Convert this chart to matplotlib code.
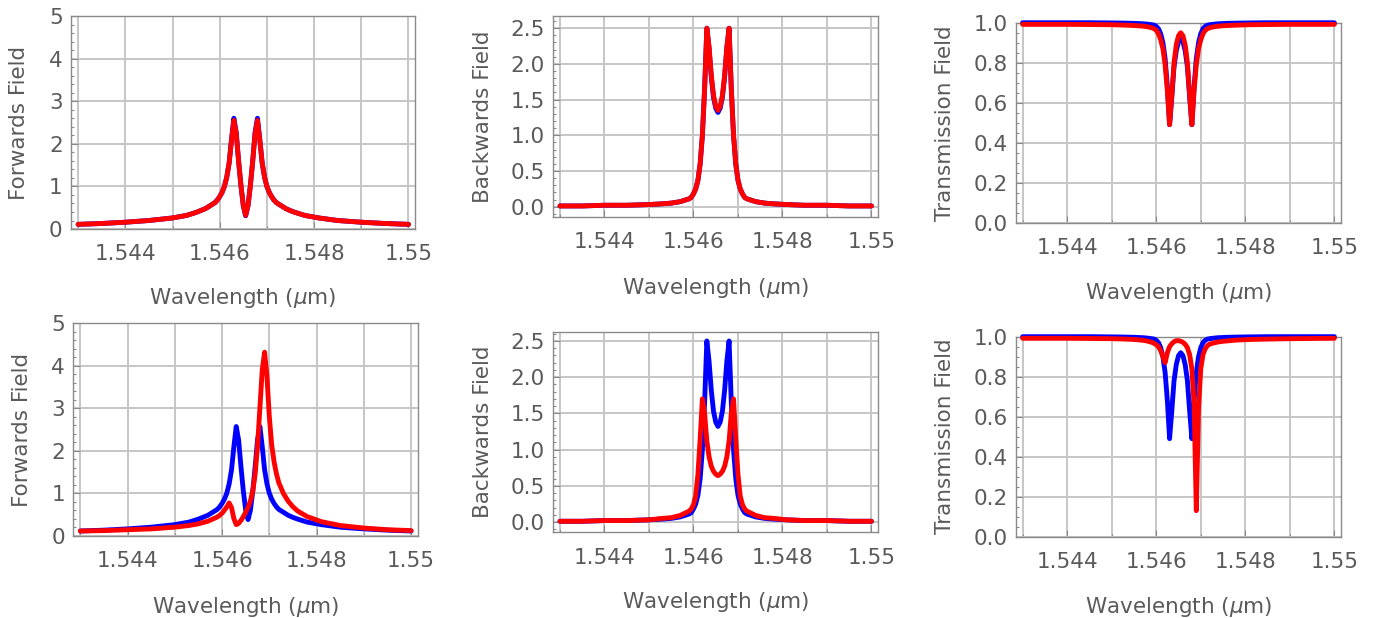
import matplotlib
matplotlib.use("Agg")
import matplotlib.pyplot as plt

# wavelength samples (um), dense around the resonances
wl = [1.5430, 1.5435, 1.5440, 1.5445, 1.5450, 1.5453, 1.5455, 1.5457, 1.5458,
      1.54590, 1.54595, 1.54600, 1.54605, 1.54610, 1.54615, 1.54620, 1.54625,
      1.54630, 1.54635, 1.54640, 1.54645, 1.54650, 1.54655, 1.54660, 1.54665,
      1.54670, 1.54675, 1.54680, 1.54685, 1.54690, 1.54695, 1.54700, 1.54705,
      1.54710, 1.54715, 1.54720,
      1.5473, 1.5474, 1.5475, 1.5476, 1.5478, 1.5481, 1.5485, 1.5490, 1.5495, 1.5500]

# top row
fwd_top_blue = [0.11, 0.13, 0.16, 0.20, 0.26, 0.32, 0.39, 0.48, 0.55,
                0.62, 0.68, 0.76, 0.86, 1.00, 1.22, 1.55, 2.10, 2.60, 2.27, 1.60, 1.02, 0.55, 0.31,
                0.55, 1.02, 1.60, 2.27, 2.60, 2.10, 1.55, 1.22, 1.00, 0.86, 0.76, 0.68, 0.62,
                0.55, 0.48, 0.43, 0.39, 0.32, 0.26, 0.20, 0.16, 0.13, 0.11]
fwd_top_red = [0.11, 0.13, 0.16, 0.20, 0.26, 0.32, 0.39, 0.48, 0.55,
               0.62, 0.68, 0.76, 0.86, 1.00, 1.22, 1.55, 2.08, 2.55, 2.24, 1.60, 1.02, 0.55, 0.32,
               0.55, 1.02, 1.60, 2.24, 2.55, 2.08, 1.55, 1.22, 1.00, 0.86, 0.76, 0.68, 0.62,
               0.55, 0.48, 0.43, 0.39, 0.32, 0.26, 0.20, 0.16, 0.13, 0.11]
bwd_top_blue = [0.01, 0.01, 0.02, 0.02, 0.03, 0.04, 0.05, 0.07, 0.09,
                0.11, 0.13, 0.18, 0.25, 0.37, 0.60, 1.00, 1.65, 2.50, 2.22, 1.82, 1.53, 1.38, 1.32,
                1.38, 1.53, 1.82, 2.22, 2.50, 1.65, 1.00, 0.60, 0.37, 0.25, 0.18, 0.13, 0.11,
                0.09, 0.07, 0.06, 0.05, 0.04, 0.03, 0.02, 0.02, 0.01, 0.01]
bwd_top_red = [0.01, 0.01, 0.02, 0.02, 0.03, 0.04, 0.05, 0.07, 0.09,
               0.11, 0.13, 0.18, 0.25, 0.37, 0.60, 1.00, 1.65, 2.50, 2.24, 1.84, 1.56, 1.41, 1.35,
               1.41, 1.56, 1.84, 2.24, 2.50, 1.65, 1.00, 0.60, 0.37, 0.25, 0.18, 0.13, 0.11,
               0.09, 0.07, 0.06, 0.05, 0.04, 0.03, 0.02, 0.02, 0.01, 0.01]
trn_top_blue = [1.0, 1.0, 1.0, 1.0, 0.999, 0.998, 0.997, 0.995, 0.993,
                0.99, 0.988, 0.982, 0.97, 0.945, 0.90, 0.82, 0.68, 0.49, 0.63, 0.78, 0.86, 0.905, 0.92,
                0.905, 0.86, 0.78, 0.63, 0.49, 0.68, 0.82, 0.90, 0.945, 0.97, 0.982, 0.988, 0.99,
                0.993, 0.995, 0.996, 0.997, 0.998, 0.999, 1.0, 1.0, 1.0, 1.0]
trn_top_red = [0.992, 0.992, 0.992, 0.991, 0.99, 0.988, 0.986, 0.983, 0.98,
               0.975, 0.97, 0.962, 0.945, 0.915, 0.87, 0.79, 0.66, 0.49, 0.64, 0.80, 0.89, 0.935, 0.95,
               0.935, 0.89, 0.80, 0.64, 0.49, 0.66, 0.79, 0.87, 0.915, 0.945, 0.962, 0.97, 0.975,
               0.98, 0.983, 0.985, 0.986, 0.988, 0.99, 0.991, 0.992, 0.992, 0.992]

# bottom row
fwd_bot_blue = [0.11, 0.13, 0.16, 0.20, 0.26, 0.32, 0.39, 0.48, 0.55,
                0.62, 0.68, 0.76, 0.86, 1.00, 1.22, 1.55, 2.10, 2.57, 2.25, 1.62, 1.05, 0.60, 0.38,
                0.60, 1.05, 1.62, 2.25, 2.57, 2.10, 1.55, 1.22, 1.00, 0.86, 0.76, 0.68, 0.62,
                0.55, 0.48, 0.43, 0.39, 0.32, 0.26, 0.20, 0.16, 0.13, 0.11]
fwd_bot_red = [0.11, 0.12, 0.14, 0.16, 0.20, 0.24, 0.28, 0.34, 0.39,
               0.44, 0.48, 0.53, 0.60, 0.68, 0.77, 0.66, 0.40, 0.26, 0.29, 0.36, 0.45, 0.55, 0.67,
               0.82, 1.05, 1.45, 2.10, 3.00, 3.90, 4.32, 3.75, 2.80, 2.14, 1.74, 1.46, 1.25,
               0.99, 0.81, 0.68, 0.58, 0.45, 0.33, 0.24, 0.18, 0.14, 0.12]
bwd_bot_blue = bwd_top_blue
bwd_bot_red = [0.01, 0.01, 0.02, 0.02, 0.03, 0.05, 0.06, 0.09, 0.12,
               0.15, 0.18, 0.24, 0.36, 0.66, 1.15, 1.70, 1.50, 1.12, 0.90, 0.77, 0.70, 0.66, 0.64,
               0.66, 0.70, 0.77, 0.90, 1.12, 1.50, 1.70, 1.15, 0.66, 0.36, 0.24, 0.18, 0.15,
               0.12, 0.09, 0.075, 0.06, 0.05, 0.03, 0.02, 0.02, 0.01, 0.01]
trn_bot_blue = trn_top_blue
trn_bot_red = [0.992, 0.992, 0.992, 0.991, 0.99, 0.988, 0.986, 0.982, 0.978,
               0.972, 0.967, 0.96, 0.95, 0.93, 0.90, 0.87, 0.92, 0.95, 0.965, 0.975, 0.98, 0.98, 0.977,
               0.972, 0.962, 0.945, 0.91, 0.84, 0.66, 0.13, 0.64, 0.84, 0.91, 0.94, 0.955, 0.963,
               0.969, 0.974, 0.977, 0.979, 0.983, 0.986, 0.988, 0.99, 0.991, 0.992]

x_ticks = [1.544, 1.546, 1.548, 1.55]
x_ticklabels = ['1.544', '1.546', '1.548', '1.55']
x_grid_minor = [1.543, 1.545, 1.547, 1.549]

TXT = '#5a5a5a'
FRAME = '#8a8a8a'
GRID = '#c6c6c6'
FS = 15.5

fig = plt.figure(figsize=(13.74, 6.18), dpi=100)


def panel(rect, blue, red, ylim, yticks, ylabels, ystep_minor, ylabel, ylab_x, xlab_y):
    ax = fig.add_axes(rect)
    ax.plot(wl, blue, color='#0000ff', lw=3.5, solid_capstyle='round',
            solid_joinstyle='round', zorder=3, clip_on=False)
    ax.plot(wl, red, color='#ff0000', lw=3.5, solid_capstyle='round',
            solid_joinstyle='round', zorder=4, clip_on=False)
    ax.set_xlim(1.54285, 1.55014)
    ax.set_ylim(*ylim)

    ax.set_xticks(x_ticks, labels=x_ticklabels)
    ax.set_xticks(x_grid_minor, minor=True)
    ax.set_yticks(yticks, labels=ylabels)
    ax.yaxis.set_minor_locator(matplotlib.ticker.MultipleLocator(ystep_minor))

    ax.grid(True, which='major', color=GRID, lw=1.4, zorder=1)
    ax.grid(True, which='minor', axis='x', color=GRID, lw=1.4, zorder=1)
    ax.set_axisbelow(True)

    for s in ax.spines.values():
        s.set_color(FRAME)
        s.set_linewidth(1.0)
    ax.tick_params(which='both', direction='in', color=FRAME, labelcolor=TXT,
                   labelsize=FS, width=0.8)
    ax.tick_params(which='major', length=5)
    ax.tick_params(which='minor', length=2.5)
    ax.tick_params(axis='x', pad=11)
    ax.tick_params(axis='y', pad=6)

    ax.set_ylabel(ylabel, fontsize=FS, color=TXT, va='center')
    ax.yaxis.set_label_coords(ylab_x, 0.5)
    ax.set_xlabel(r'Wavelength ($\mu$m)', fontsize=FS, color=TXT, va='center')
    ax.xaxis.set_label_coords(0.5, xlab_y)
    return ax


int_ticks = [0, 1, 2, 3, 4, 5]
int_labels = ['0', '1', '2', '3', '4', '5']
half_ticks = [0.0, 0.5, 1.0, 1.5, 2.0, 2.5]
half_labels = ['0.0', '0.5', '1.0', '1.5', '2.0', '2.5']
fifth_ticks = [0.0, 0.2, 0.4, 0.6, 0.8, 1.0]
fifth_labels = ['0.0', '0.2', '0.4', '0.6', '0.8', '1.0']

panel([0.0517, 0.6294, 0.2504, 0.3447], fwd_top_blue, fwd_top_red, (0, 5),
      int_ticks, int_labels, 0.2, 'Forwards Field', -0.151, -0.324)
panel([0.4027, 0.6494, 0.2361, 0.3248], bwd_top_blue, bwd_top_red, (-0.14, 2.672),
      half_ticks, half_labels, 0.1, 'Backwards Field', -0.218, -0.355)
panel([0.7394, 0.6396, 0.2363, 0.3236], trn_top_blue, trn_top_red, (0, 1.0),
      fifth_ticks, fifth_labels, 0.05, 'Transmission Field', -0.217, -0.352)

panel([0.0533, 0.1332, 0.2507, 0.3437], fwd_bot_blue, fwd_bot_red, (0, 5),
      int_ticks, int_labels, 0.2, 'Forwards Field', -0.150, -0.336)
panel([0.4027, 0.1387, 0.2361, 0.3241], bwd_bot_blue, bwd_bot_red, (-0.142, 2.624),
      half_ticks, half_labels, 0.1, 'Backwards Field', -0.218, -0.346)
panel([0.7394, 0.1316, 0.2363, 0.3236], trn_bot_blue, trn_bot_red, (0, 1.0),
      fifth_ticks, fifth_labels, 0.05, 'Transmission Field', -0.217, -0.350)

fig.savefig('out.png', dpi=100)
